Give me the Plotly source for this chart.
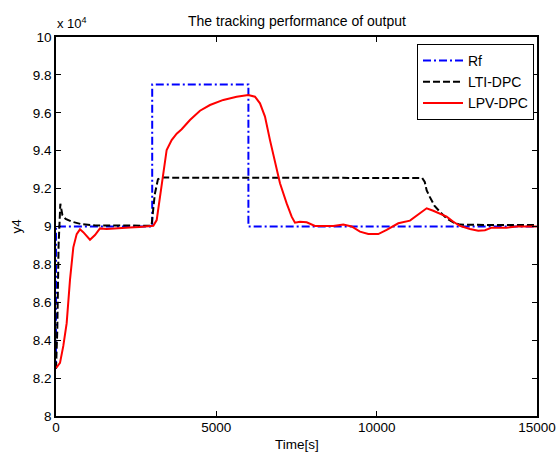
import plotly.graph_objects as go

# ---- data (values in raw units; axis shown as x 10^4) ----
rf_t = [0, 1, 3000, 3000, 6000, 6000, 15000]
rf_y = [82500, 90000, 90000, 97500, 97500, 90000, 90000]

lti_t = [0, 40, 80, 110, 135, 200, 300, 500, 800, 1200, 2000, 2980,
         3080, 3180, 3300, 11300, 11420, 11500, 11560, 11660, 11800, 11970,
         12180, 12440, 12600, 13500, 15000]
lti_y = [82500, 84500, 89000, 91000, 91200, 90600, 90400, 90250, 90120, 90060, 90040, 90040,
         91700, 92500, 92580, 92580, 92560, 92350, 91900, 91550, 91100, 90780,
         90430, 90170, 90100, 90080, 90080]

lpv_t = [0, 125, 228, 333, 437, 540, 645, 748, 850, 904, 1060, 1216, 1372, 1580, 1900,
         2300, 2600, 2985, 3035, 3140, 3243, 3347, 3451, 3607, 3763, 3919, 4178, 4490,
         4802, 5218, 5634, 5996, 6205, 6361, 6517, 6673, 6829, 6985, 7193, 7349, 7452,
         7608, 7817, 8076, 8647, 8959, 9220, 9479, 9738, 10050, 10312, 10674, 11038,
         11297, 11559, 11765, 11974, 12182, 12390, 12597, 12909, 13168, 13377, 13586,
         14053, 14365, 14989]
lpv_y = [82530, 82800, 83700, 84900, 87200, 88900, 89600, 89850, 89700, 89600, 89300, 89550,
         89900, 89870, 89920, 89950, 89970, 90000, 90040, 90340, 91570, 92980, 94040,
         94560, 94900, 95130, 95620, 96110, 96410, 96680, 96850, 96940, 96850, 96500,
         95800, 94560, 93330, 92280, 91220, 90520, 90200, 90250, 90220, 90030, 90030,
         90100, 90000, 89730, 89600, 89600, 89820, 90170, 90310, 90610, 90960, 90830,
         90660, 90520, 90250, 90030, 89870, 89780, 89800, 89940, 89940, 90000, 90000]

x_ticks = [0, 5000, 10000, 15000]
y_ticks = [80000, 82000, 84000, 86000, 88000, 90000, 92000, 94000, 96000, 98000, 100000]
y_tick_text = ["8", "8.2", "8.4", "8.6", "8.8", "9", "9.2", "9.4", "9.6", "9.8", "10"]

FONT = "Liberation Sans, Arial, sans-serif"

fig = go.Figure()
fig.add_trace(go.Scatter(x=rf_t, y=rf_y, mode="lines", name="Rf",
                         line=dict(color="#0000ff", width=2, dash="8px,3px,2px,3px")))
fig.add_trace(go.Scatter(x=lti_t, y=lti_y, mode="lines", name="LTI-DPC",
                         line=dict(color="#000000", width=2, dash="7px,3px")))
fig.add_trace(go.Scatter(x=lpv_t, y=lpv_y, mode="lines", name="LPV-DPC",
                         line=dict(color="#ff0000", width=2)))

W, H = 557, 453
L, R, T, B = 56, 537, 37, 416

fig.update_layout(
    width=W, height=H,
    margin=dict(l=L, r=W - R, t=T, b=H - B, autoexpand=False),
    paper_bgcolor="white", plot_bgcolor="white",
    font=dict(family=FONT, size=13.5, color="black"),
    showlegend=True,
    legend=dict(x=(534 - L) / (R - L), y=(B - 44) / (B - T), xanchor="right", yanchor="top",
                bgcolor="white", bordercolor="black", borderwidth=1,
                font=dict(family=FONT, size=14), tracegroupgap=0, itemwidth=40),
    xaxis=dict(range=[0, 15000], tickvals=x_ticks, ticktext=[str(v) for v in x_ticks],
               showgrid=False, zeroline=False, showline=True, linecolor="black", linewidth=1.5,
               mirror="allticks", ticks="inside", ticklen=5, tickcolor="black",
               tickfont=dict(size=13.5), automargin=False, ticklabelstandoff=-2),
    yaxis=dict(range=[80000, 100000], tickvals=y_ticks, ticktext=y_tick_text,
               showgrid=False, zeroline=False, showline=True, linecolor="black", linewidth=1.5,
               mirror="allticks", ticks="inside", ticklen=5, tickcolor="black",
               tickfont=dict(size=13.5), automargin=False),
    annotations=[
        dict(text="The tracking performance of output", xref="paper", yref="paper",
             x=0.5, y=1, yshift=16, xanchor="center", yanchor="middle", showarrow=False,
             font=dict(size=14)),
        dict(text="x 10<sup>4</sup>", xref="paper", yref="paper", x=0, y=1, xshift=-1, yshift=14,
             xanchor="left", yanchor="middle", showarrow=False, font=dict(size=13)),
        dict(text="Time[s]", xref="paper", yref="paper", x=0.5, y=0, yshift=-28,
             xanchor="center", yanchor="middle", showarrow=False, font=dict(size=13.5)),
        dict(text="y4", xref="paper", yref="paper", x=0, y=0.5, xshift=-40,
             xanchor="center", yanchor="middle", textangle=-90, showarrow=False,
             font=dict(size=13.5)),
    ],
)

fig.write_html("out.html")
